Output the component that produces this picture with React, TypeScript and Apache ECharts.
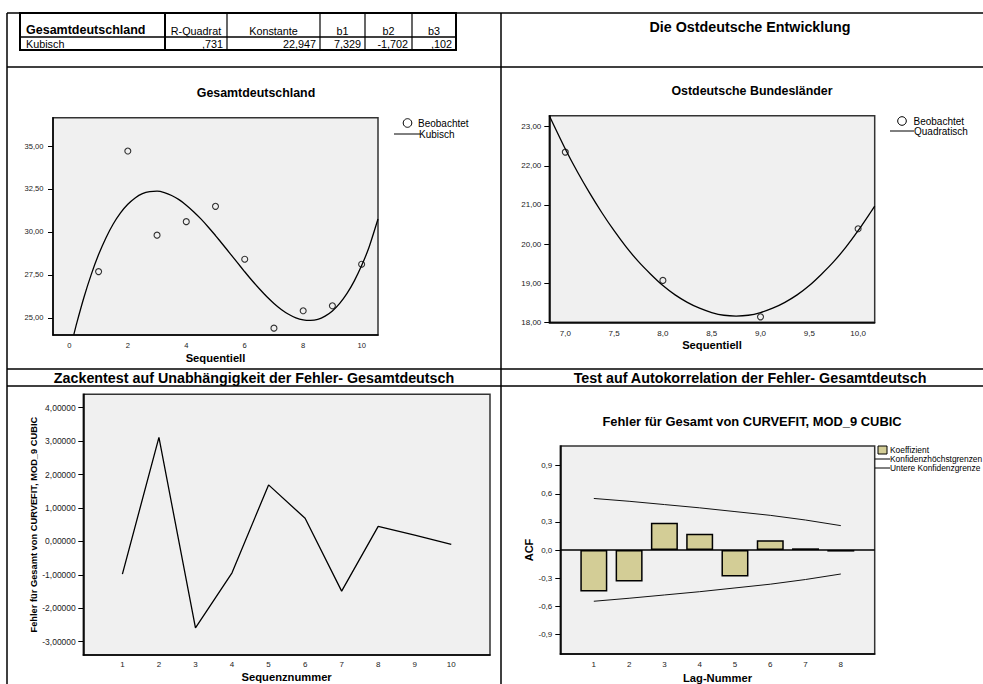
import React, { useEffect, useRef } from 'react';
import * as echarts from 'echarts';

const FONT = '"Liberation Sans", Arial, Helvetica, sans-serif';

// ---- Table (top-left) ----
const tableTitle = 'Gesamtdeutschland';
const tableModel = 'Kubisch';
const tableHeaders = ['R-Quadrat', 'Konstante', 'b1', 'b2', 'b3'];
const tableValues = [',731', '22,947', '7,329', '-1,702', ',102'];

// ---- Section headings ----
const headerRight = 'Die Ostdeutsche Entwicklung';
const sectionLeft = 'Zackentest auf Unabhängigkeit der Fehler- Gesamtdeutsch';
const sectionRight = 'Test auf Autokorrelation der Fehler- Gesamtdeutsch';

// ---- Chart 1: Gesamtdeutschland ----
const gdTitle = 'Gesamtdeutschland';
const gdX = [1, 2, 3, 4, 5, 6, 7, 8, 9, 10];
const gdObserved = [27.69, 34.71, 29.81, 30.6, 31.49, 28.41, 24.4, 25.41, 25.7, 28.12];
const gdCurveX = [0.15, 0.25, 0.5, 0.75, 1, 1.25, 1.5, 1.75, 2, 2.25, 2.5, 2.75, 3, 3.25, 3.5, 3.75, 4, 4.25, 4.5, 4.75, 5, 5.25, 5.5, 5.75, 6, 6.25, 6.5, 6.75, 7, 7.25, 7.5, 7.75, 8, 8.25, 8.5, 8.75, 9, 9.25, 9.5, 9.75, 10, 10.25, 10.56];
const gdCurveY = [24.01, 24.68, 26.2, 27.53, 28.68, 29.65, 30.46, 31.11, 31.61, 31.98, 32.23, 32.35, 32.37, 32.29, 32.12, 31.88, 31.56, 31.18, 30.76, 30.29, 29.79, 29.27, 28.74, 28.21, 27.68, 27.17, 26.69, 26.24, 25.84, 25.49, 25.21, 25.0, 24.88, 24.85, 24.91, 25.1, 25.4, 25.84, 26.42, 27.15, 28.04, 29.09, 30.75];
const gdXTicks = [0, 2, 4, 6, 8, 10];
const gdYTicks = [25, 27.5, 30, 32.5, 35];
const gdLegend = ['Beobachtet', 'Kubisch'];

// ---- Chart 2: Ostdeutsche Bundesländer ----
const odTitle = 'Ostdeutsche Bundesländer';
const odX = [7, 8, 9, 10];
const odObserved = [22.35, 19.07, 18.14, 20.39];
const odCurveX = [6.836, 7, 7.125, 7.25, 7.375, 7.5, 7.625, 7.75, 7.875, 8, 8.125, 8.25, 8.375, 8.5, 8.625, 8.75, 8.875, 9, 9.125, 9.25, 9.375, 9.5, 9.625, 9.75, 9.875, 10, 10.125, 10.17];
const odCurveY = [23.28, 22.43, 21.84, 21.3, 20.8, 20.34, 19.92, 19.55, 19.23, 18.94, 18.7, 18.51, 18.36, 18.25, 18.18, 18.16, 18.18, 18.25, 18.36, 18.51, 18.7, 18.94, 19.23, 19.55, 19.92, 20.34, 20.8, 20.97];
const odXTicks = [7, 7.5, 8, 8.5, 9, 9.5, 10];
const odYTicks = [18, 19, 20, 21, 22, 23];
const odLegend = ['Beobachtet', 'Quadratisch'];

// ---- Chart 3: residuals ----
const resX = [1, 2, 3, 4, 5, 6, 7, 8, 9, 10];
const resY = [-0.98, 3.11, -2.59, -0.94, 1.69, 0.69, -1.49, 0.45, 0.19, -0.09];
const resXTicks = [1, 2, 3, 4, 5, 6, 7, 8, 9, 10];
const resYTicks = [-3, -2, -1, 0, 1, 2, 3, 4];

// ---- Chart 4: ACF ----
const acfTitle = 'Fehler für Gesamt von CURVEFIT, MOD_9 CUBIC';
const lags = [1, 2, 3, 4, 5, 6, 7, 8];
const acf = [-0.442, -0.337, 0.292, 0.173, -0.284, 0.105, 0.018, -0.017];
const acfUpper = [0.55, 0.52, 0.485, 0.45, 0.41, 0.37, 0.32, 0.26];
const acfLower = [-0.547, -0.515, -0.48, -0.445, -0.405, -0.365, -0.315, -0.256];
const acfYTicks = [-0.9, -0.6, -0.3, 0, 0.3, 0.6, 0.9];
const acfLegend = ['Koeffizient', 'Konfidenzhöchstgrenzen', 'Untere Konfidenzgrenze'];

const zip = (a: number[], b: number[]) => a.map((v, i) => [v, b[i]]);
const de = (d: number) => (v: number) => Number(v).toFixed(d).replace('.', ',');

function xAx(gridIndex: number, min: number, max: number, ticks: number[], fmt: any, name: string, nameGap: number, fontSize: number, margin: number) {
  return {
    type: 'value', gridIndex, min, max, name, nameLocation: 'middle', nameGap,
    nameTextStyle: { fontFamily: FONT, fontWeight: 'bold', fontSize: 11.2, color: '#000' },
    axisLine: { show: true, onZero: false, lineStyle: { color: '#000', width: 1.5 } },
    axisTick: { show: false },
    axisLabel: { customValues: ticks, formatter: fmt, fontSize, color: '#222', margin, fontFamily: FONT },
    splitLine: { show: false },
  };
}
function yAx(gridIndex: number, min: number, max: number, ticks: number[], fmt: any, name: string, nameGap: number, nameSize: number, fontSize: number, margin: number) {
  return {
    type: 'value', gridIndex, min, max, name, nameLocation: 'middle', nameGap,
    nameTextStyle: { fontFamily: FONT, fontWeight: 'bold', fontSize: nameSize, color: '#000' },
    axisLine: { show: true, onZero: false, lineStyle: { color: '#000', width: 1.5 } },
    axisTick: { show: true, customValues: ticks, length: 5, lineStyle: { color: '#000', width: 1 } },
    axisLabel: { customValues: ticks, formatter: fmt, fontSize, color: '#222', margin, fontFamily: FONT },
    splitLine: { show: false },
  };
}

const gridBase = { show: true, backgroundColor: '#f0f0f0', borderColor: '#333', borderWidth: 1.5 };

function txt(x: number, y: number, text: string, size: number, bold: boolean, align = 'left', rest: any = {}) {
  return {
    type: 'text', x, y, silent: true,
    style: { text, fontSize: size, fontWeight: bold ? 'bold' : 'normal', fontFamily: FONT, fill: '#000', textAlign: align, textVerticalAlign: 'middle', verticalAlign: 'middle', ...rest },
  };
}
function ln(x1: number, y1: number, x2: number, y2: number, w = 1.5, c = '#000') {
  return { type: 'line', silent: true, shape: { x1, y1, x2, y2 }, style: { stroke: c, lineWidth: w } };
}

export default function App() {
  const ref = useRef<HTMLDivElement>(null);
  useEffect(() => {
    if (!ref.current) return;
    const chart = echarts.init(ref.current, undefined, { renderer: 'svg' });

    const cols = [20, 165, 227, 320, 365, 412, 456];
    const graphic: any[] = [];
    // page frame lines
    graphic.push(ln(7, 13, 7, 684));
    graphic.push(ln(7, 13, 983, 13));
    graphic.push(ln(7, 67, 983, 67));
    graphic.push(ln(7, 369, 983, 369));
    graphic.push(ln(7, 386, 983, 386));
    graphic.push(ln(501, 13, 501, 684));
    // table
    graphic.push({ type: 'rect', silent: true, shape: { x: 20, y: 13, width: 436, height: 37 }, style: { fill: 'none', stroke: '#000', lineWidth: 2 } });
    graphic.push(ln(20, 37, 456, 37, 1.5));
    cols.slice(1, -1).forEach((c, i) => graphic.push(ln(c, 13, c, 50, i === 0 ? 2 : 1.2)));
    graphic.push(txt(26, 30, tableTitle, 12.5, true));
    graphic.push(txt(26, 44, tableModel, 10.8, false));
    tableHeaders.forEach((h, i) => graphic.push(txt((cols[i + 1] + cols[i + 2]) / 2, 31, h, 10.8, false, 'center')));
    tableValues.forEach((v, i) => graphic.push(txt(cols[i + 2] - 4, 44, v, 10.8, false, 'right')));
    // headings
    graphic.push(txt(750, 27, headerRight, 14.3, true, 'center'));
    graphic.push(txt(254, 378, sectionLeft, 14.3, true, 'center'));
    graphic.push(txt(750, 378, sectionRight, 14.3, true, 'center'));
    // chart titles
    graphic.push(txt(256, 93, gdTitle, 12.4, true, 'center'));
    graphic.push(txt(752, 91, odTitle, 12.4, true, 'center'));
    graphic.push(txt(752, 421, acfTitle, 12.9, true, 'center'));
    // legends chart 1
    graphic.push({ type: 'circle', silent: true, shape: { cx: 407.5, cy: 123, r: 4.3 }, style: { fill: '#fff', stroke: '#000', lineWidth: 1 } });
    graphic.push(txt(418, 123, gdLegend[0], 10, false));
    graphic.push(ln(394, 134, 420, 134, 1));
    graphic.push(txt(419, 134, gdLegend[1], 10, false));
    // legends chart 2
    graphic.push({ type: 'circle', silent: true, shape: { cx: 902, cy: 121, r: 4.3 }, style: { fill: '#fff', stroke: '#000', lineWidth: 1 } });
    graphic.push(txt(913.5, 121, odLegend[0], 10, false));
    graphic.push(ln(890, 131, 914, 131, 1));
    graphic.push(txt(914, 131, odLegend[1], 10, false));
    // legends chart 4
    graphic.push({ type: 'rect', silent: true, shape: { x: 878, y: 446, width: 9, height: 8 }, style: { fill: '#d3cd96', stroke: '#000', lineWidth: 1 } });
    graphic.push(txt(890, 450, acfLegend[0], 8.4, false));
    graphic.push(ln(875, 459, 890, 459, 1));
    graphic.push(txt(890, 459, acfLegend[1], 8.4, false));
    graphic.push(ln(875, 468, 890, 468, 1));
    graphic.push(txt(890, 468, acfLegend[2], 8.4, false));

    const option: any = {
      animation: false,
      backgroundColor: '#fff',
      textStyle: { fontFamily: FONT },
      grid: [
        { ...gridBase, left: 53, top: 117.7, width: 325, height: 217.3 },
        { ...gridBase, left: 549.3, top: 115.7, width: 325.4, height: 206.6 },
        { ...gridBase, left: 83.3, top: 394.3, width: 406.7, height: 260.7 },
        { ...gridBase, left: 560.3, top: 446, width: 314.4, height: 210.7 },
      ],
      xAxis: [
        xAx(0, -0.56, 10.56, gdXTicks, de(0), 'Sequentiell', 17.5, 7.6, 6),
        xAx(1, 6.836, 10.17, odXTicks, de(1), 'Sequentiell', 17, 8, 7),
        xAx(2, -0.07, 11.06, resXTicks, de(0), 'Sequenznummer', 16, 8, 5),
        xAx(3, 0.05, 8.96, lags, de(0), 'Lag-Nummer', 18, 8, 6.5),
      ],
      yAxis: [
        yAx(0, 24.0, 36.65, gdYTicks, de(2), '', 0, 10, 7.6, 9.5),
        yAx(1, 18, 23.28, odYTicks, de(2), '', 0, 10, 8, 8),
        yAx(2, -3.4, 4.4, resYTicks, de(5), 'Fehler für Gesamt von CURVEFIT, MOD_9 CUBIC', 45, 9.3, 8.5, 7.5),
        yAx(3, -1.11, 1.11, acfYTicks, de(1), 'ACF', 26, 11, 8, 8),
      ],
      series: [
        { type: 'line', xAxisIndex: 0, yAxisIndex: 0, data: zip(gdCurveX, gdCurveY), symbol: 'none', smooth: 0.2, clip: true, lineStyle: { color: '#000', width: 1.3 }, z: 3 },
        { type: 'scatter', xAxisIndex: 0, yAxisIndex: 0, data: zip(gdX, gdObserved), symbol: 'circle', symbolSize: 6, itemStyle: { color: 'rgba(0,0,0,0)', borderColor: '#000', borderWidth: 1.1 }, z: 4 },
        { type: 'line', xAxisIndex: 1, yAxisIndex: 1, data: zip(odCurveX, odCurveY), symbol: 'none', smooth: 0.2, clip: true, lineStyle: { color: '#000', width: 1.3 }, z: 3 },
        { type: 'scatter', xAxisIndex: 1, yAxisIndex: 1, data: zip(odX, odObserved), symbol: 'circle', symbolSize: 6, itemStyle: { color: 'rgba(0,0,0,0)', borderColor: '#000', borderWidth: 1.1 }, z: 4 },
        { type: 'line', xAxisIndex: 2, yAxisIndex: 2, data: zip(resX, resY), symbol: 'none', lineStyle: { color: '#000', width: 1.3 } },
        {
          type: 'bar', xAxisIndex: 3, yAxisIndex: 3, data: zip(lags, acf), barWidth: 27,
          itemStyle: { color: '#d3cd96', borderColor: '#000', borderWidth: 1.5 },
          markLine: { silent: true, symbol: ['none', 'none'], label: { show: false }, lineStyle: { color: '#000', width: 1.5, type: 'solid' }, data: [{ yAxis: 0 }] },
        },
        { type: 'line', xAxisIndex: 3, yAxisIndex: 3, data: zip(lags, acfUpper), symbol: 'none', lineStyle: { color: '#111', width: 1 }, z: 4 },
        { type: 'line', xAxisIndex: 3, yAxisIndex: 3, data: zip(lags, acfLower), symbol: 'none', lineStyle: { color: '#111', width: 1 }, z: 4 },
      ],
      graphic,
    };
    chart.setOption(option);
    return () => chart.dispose();
  }, []);
  return <div ref={ref} style={{ position: 'fixed', left: 0, top: 0, width: 983, height: 684, background: '#fff' }} />;
}
